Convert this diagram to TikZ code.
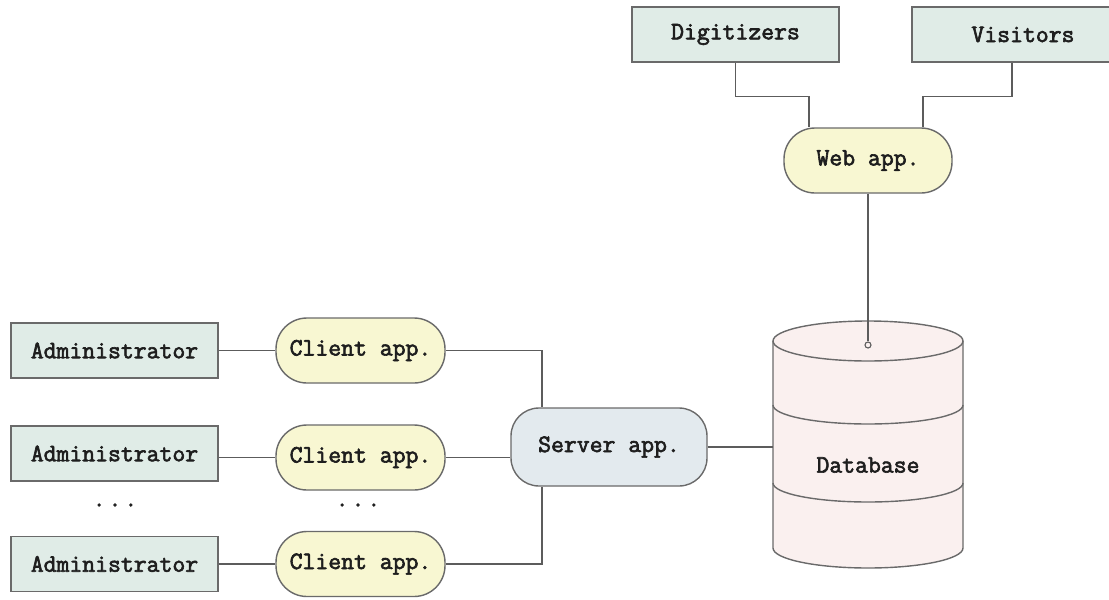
\documentclass[tikz,border=0pt]{standalone}
\usepackage{fontspec}
\newfontfamily\labelfamily{Latin Modern Mono}[FakeBold=2.5]
\usetikzlibrary{calc}

\definecolor{edgegray}{HTML}{6A6A6A}
\definecolor{wiregray}{HTML}{5C5C5C}
\definecolor{actorfill}{HTML}{E0ECE7}
\definecolor{appfill}{HTML}{F8F7D2}
\definecolor{serverfill}{HTML}{E3EAEE}
\definecolor{dbfill}{HTML}{FAF0EF}
\definecolor{inkdark}{HTML}{1E1E1E}

\tikzset{
  label font/.style={font=\labelfamily\fontsize{25}{29}\selectfont, text=inkdark},
  actor/.style={rectangle, draw=edgegray, fill=actorfill, line width=1.4pt,
    minimum width=207pt, minimum height=55pt, inner sep=0pt, label font},
  app/.style={rectangle, rounded corners=31pt, draw=edgegray, fill=appfill, line width=1.4pt,
    minimum width=169pt, minimum height=65pt, inner sep=0pt, label font},
  server/.style={rectangle, rounded corners=28pt, draw=edgegray, fill=serverfill, line width=1.4pt,
    minimum width=196pt, minimum height=78pt, inner sep=0pt, label font},
  wire/.style={draw=wiregray, line width=1.4pt},
  dbline/.style={draw=edgegray, line width=1.4pt},
  port/.style={circle, draw=wiregray, fill=dbfill, line width=1.1pt, minimum size=6pt, inner sep=0pt},
  dots/.style={label font}
}

\begin{document}
\begin{tikzpicture}[x=1pt, y=1pt]
  \useasboundingbox (0,0) rectangle (1109,-600);
  \clip (0,0) rectangle (1109,-600);
  \fill[white] (0,0) rectangle (1109,-600);

  % web side
  \node[actor] (dig) at (735.5,-34.5) {Digitizers};
  \node[actor, minimum width=222pt] (vis) at (1023,-34.5) {Visitors};
  \node[app, minimum width=168pt] (web) at (868,-160.5) {Web app.};

  % database cylinder
  \path[fill=dbfill] (773,-341) -- (773,-548)
    arc[start angle=180, end angle=360, x radius=95, y radius=20]
    -- (963,-341)
    arc[start angle=0, end angle=180, x radius=95, y radius=20] -- cycle;
  \draw[dbline] (773,-341) -- (773,-548)
    arc[start angle=180, end angle=360, x radius=95, y radius=20] -- (963,-341);
  \draw[dbline] (868,-341) ellipse[x radius=95, y radius=20];
  \draw[dbline] (773,-405) arc[start angle=180, end angle=360, x radius=95, y radius=19];
  \draw[dbline] (773,-483) arc[start angle=180, end angle=360, x radius=95, y radius=19];
  \node[label font] (db) at (868,-465) {Database};
  \coordinate (dbleft) at (773,-447);
  \node[port] (dbport) at (868,-345) {};

  % server
  \node[server] (srv) at (609,-447) {Server app.};

  % administrators and clients
  \node[actor] (adm1) at (114.5,-350.5) {Administrator};
  \node[actor] (adm2) at (114.5,-453.5) {Administrator};
  \node[actor] (adm3) at (114.5,-564) {Administrator};
  \node[app] (cl1) at (360.5,-350.5) {Client app.};
  \node[app] (cl2) at (360.5,-457.5) {Client app.};
  \node[app] (cl3) at (360.5,-564) {Client app.};
  \node[dots] (dotsA) at (115,-505) {.\hspace{3pt}.\hspace{3pt}.};
  \node[dots] (dotsB) at (358,-505) {.\hspace{3pt}.\hspace{3pt}.};

  % connectors
  \draw[wire] (dig.south) -- ++(0,-34) -| ([xshift=-59pt]web.north);
  \draw[wire] ([xshift=-11pt]vis.south) -- ++(0,-34) -| ([xshift=55pt]web.north);
  \draw[wire] (web.south) -- (dbport.north);

  \draw[wire] (adm1.east) -- (cl1.west);
  \draw[wire] (adm2.east |- cl2.west) -- (cl2.west);
  \draw[wire] (adm3.east |- cl3.west) -- (cl3.west);

  \draw[wire] (cl1.east) -| ([xshift=-67pt]srv.north);
  \draw[wire] (cl2.east) -- (cl2.east -| srv.west);
  \draw[wire] (cl3.east) -| ([xshift=-67pt]srv.south);
  \draw[wire] (srv.east) -- (dbleft);
\end{tikzpicture}
\end{document}
